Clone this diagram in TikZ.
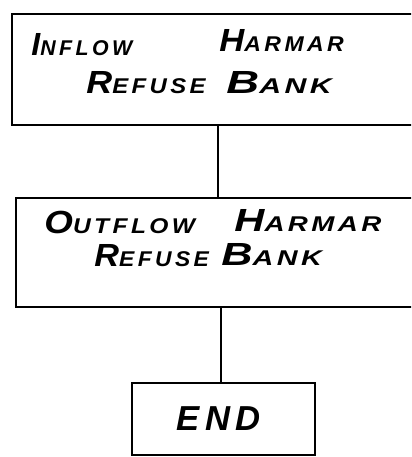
\documentclass[tikz,border=0pt]{standalone}
\usepackage{fontspec}
\setmainfont{Liberation Sans}[LetterSpace=16]
\usetikzlibrary{positioning}

% hand-lettered small caps: big first letter, smaller rest, widened by #1
\newcommand{\capword}[3][1]{{\addfontfeatures{FakeStretch=#1}%
  {\fontsize{24}{24}\selectfont #2}{\fontsize{16}{16}\selectfont #3}}}

\begin{document}
\begin{tikzpicture}[
  x=0.75pt, y=-0.75pt,
  line width=2.2pt,
  box/.style={draw, rectangle, inner sep=0pt},
  word/.style={anchor=base west, inner sep=0pt, font=\bfseries\slshape},
  link/.style={line width=2pt}
]
\useasboundingbox (0,0) rectangle (411,457);
\clip (0,0) rectangle (411,457);

\node[box, minimum width=313.5pt, minimum height=83.25pt] (inflow) at (221,69.5) {};
\node[box, minimum width=310.5pt, minimum height=81.75pt] (outflow) at (223,252.5) {};
\node[box, minimum width=137.25pt, minimum height=54pt] (end) at (223.5,419) {};

% words, one node each
\node[word] (inflow1) at (30,55) {\capword{I}{NFLOW}};
\node[word] (inflow2) at (218,51) {\capword[1.08]{H}{ARMAR}};
\node[word] (inflow3) at (85,93) {\capword[1.12]{R}{EFUSE}};
\node[word] (inflow4) at (225,93) {\capword[1.42]{B}{ANK}};
\node[word] (outflow1) at (43,233) {\capword[1.15]{O}{UTFLOW}};
\node[word] (outflow2) at (233,231) {\capword[1.3]{H}{ARMAR}};
\node[word] (outflow3) at (93,266) {\capword[1.07]{R}{EFUSE}};
\node[word] (outflow4) at (220,265) {\capword[1.35]{B}{ANK}};
\node[word] (end1) at (175,430) {\fontsize{26}{26}\selectfont END};

\draw[link] (inflow.south -| 218,0) -- (outflow.north -| 218,0);
\draw[link] (outflow.south -| 221,0) -- (end.north -| 221,0);
\end{tikzpicture}
\end{document}
